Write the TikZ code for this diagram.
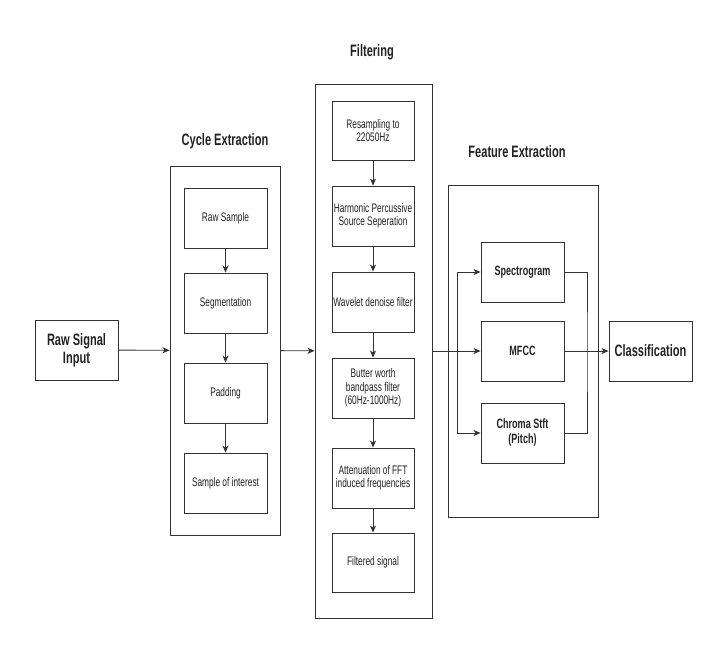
\documentclass[tikz,border=0pt]{standalone}
\usepackage{fontspec}
\newfontfamily\nsans[FakeStretch=0.67]{Liberation Sans}
\usetikzlibrary{arrows.meta}
\definecolor{edge}{HTML}{333333}
\definecolor{ink}{HTML}{222222}
\begin{document}
\begin{tikzpicture}[x=1pt,y=-1pt,
  box/.style={draw=edge,line width=0.9pt,inner sep=0pt,text=ink,align=center,
    font=\nsans\fontsize{12.4}{13.5}\selectfont},
  boldbox/.style={box,font=\nsans\bfseries\fontsize{13.5}{15}\selectfont},
  bigbox/.style={box,font=\nsans\bfseries\fontsize{16.5}{18}\selectfont},
  container/.style={draw=edge,line width=0.9pt,inner sep=0pt},
  title/.style={text=ink,font=\nsans\bfseries\fontsize{16.5}{18}\selectfont},
  arr/.style={draw=edge,line width=0.9pt,-{Stealth[length=7pt,width=6pt,inset=2pt]}},
  ln/.style={draw=edge,line width=0.9pt}]
\useasboundingbox (0,0) rectangle (726,658);
\fill[white] (0,0) rectangle (726,658);

% Raw signal input
\node[bigbox,minimum width=83pt,minimum height=60pt] (raw) at (76.5,350) {Raw Signal\\Input};

% Cycle extraction
\node[container,minimum width=110pt,minimum height=369pt] (cyc) at (225,350.5) {};
\node[title] (cyct) at (225,141) {Cycle Extraction};
\node[box,minimum width=83pt,minimum height=60pt] (rs) at (225.5,218) {Raw Sample};
\node[box,minimum width=83pt,minimum height=60pt] (seg) at (225.5,303) {Segmentation};
\node[box,minimum width=83pt,minimum height=60pt] (pad) at (225.5,393) {Padding};
\node[box,minimum width=83pt,minimum height=60pt] (soi) at (225.5,483) {Sample of interest};

% Filtering
\node[container,minimum width=117pt,minimum height=534pt] (filt) at (373.5,351) {};
\node[title] (filtt) at (372,52) {Filtering};
\node[box,minimum width=82pt,minimum height=59pt] (res) at (373,130.5) {Resampling to\\22050Hz};
\node[box,minimum width=82pt,minimum height=60pt] (harm) at (373,216) {Harmonic Percussive\\Source Seperation};
\node[box,minimum width=82pt,minimum height=60pt] (wav) at (373,302) {Wavelet denoise filter};
\node[box,minimum width=82pt,minimum height=60pt] (but) at (373,388) {Butter worth\\bandpass filter\\(60Hz-1000Hz)};
\node[box,minimum width=82pt,minimum height=60pt] (att) at (373,478) {Attenuation of FFT\\induced frequencies};
\node[box,minimum width=82pt,minimum height=59pt] (fs) at (373,562.5) {Filtered signal};

% Feature extraction
\node[container,minimum width=150pt,minimum height=332pt] (feat) at (523,351) {};
\node[title] (featt) at (517,152) {Feature Extraction};
\node[boldbox,minimum width=83pt,minimum height=60pt] (spec) at (522.5,272) {Spectrogram};
\node[boldbox,minimum width=83pt,minimum height=60pt] (mfcc) at (522.5,351) {MFCC};
\node[boldbox,minimum width=83pt,minimum height=60pt] (chroma) at (522.5,433) {Chroma Stft\\(Pitch)};

% Classification
\node[bigbox,minimum width=83pt,minimum height=60pt] (cls) at (650.5,351) {Classification};

% connectors
\draw[arr] (raw) -- (cyc);
\draw[arr] (rs) -- (seg);
\draw[arr] (seg) -- (pad);
\draw[arr] (pad) -- (soi);
\draw[arr] (cyc) -- (filt);
\draw[arr] (res) -- (harm);
\draw[arr] (harm) -- (wav);
\draw[arr] (wav) -- (but);
\draw[arr] (but) -- (att);
\draw[arr] (att) -- (fs);
\draw[arr] (filt.east |- mfcc.west) -- (mfcc.west);
\coordinate (br) at (457,351);
\draw[arr] (br) |- (spec.west);
\draw[arr] (br) |- (chroma.west);
\coordinate (mg) at (587,351);
\draw[ln] (spec.east) -| (mg) |- (chroma.east);
\draw[arr] (mfcc) -- (cls);
\end{tikzpicture}
\end{document}
